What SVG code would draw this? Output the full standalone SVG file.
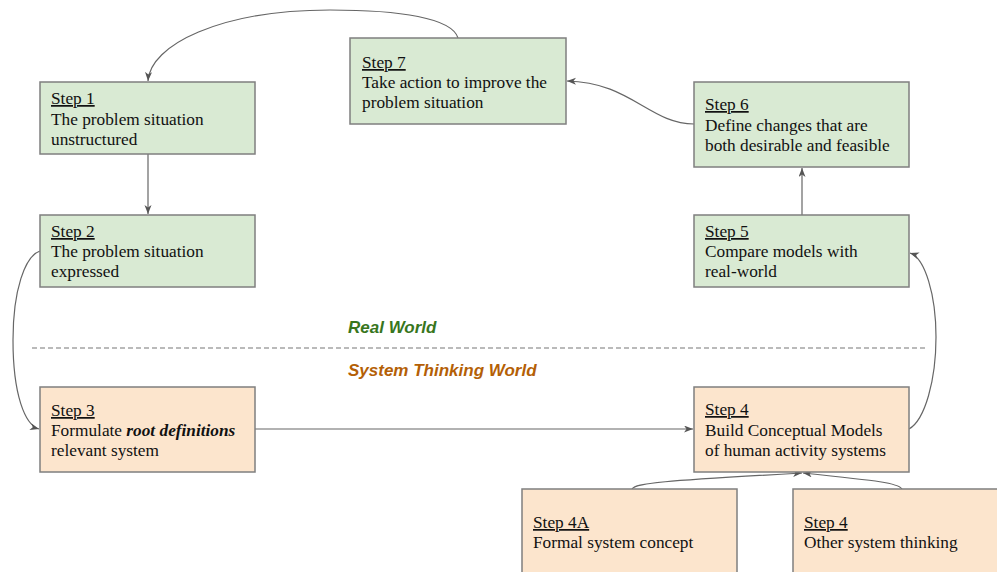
<svg xmlns="http://www.w3.org/2000/svg" width="997" height="572" viewBox="0 0 997 572">
<defs>
<style>
.g{fill:#d9ead3;stroke:#7f7f7f;stroke-width:1.5}
.o{fill:#fce5cd;stroke:#7f7f7f;stroke-width:1.5}
.t{font-family:"Liberation Serif","Times New Roman",serif;font-size:17.3px;fill:#111}
.u{text-decoration:underline}
.c{fill:none;stroke:#666;stroke-width:1.2}
.lbl{font-family:"Liberation Sans",Arial,sans-serif;font-size:17px;font-weight:bold;font-style:italic}
</style>
<marker id="ah" markerUnits="userSpaceOnUse" markerWidth="10" markerHeight="8" refX="9" refY="3.5" orient="auto">
<path d="M0,0 L9,3.5 L0,7 L2.5,3.5 z" fill="#555"/>
</marker>
</defs>
<rect width="997" height="572" fill="#fff"/>

<g id="connectors">
<path class="c" d="M458,38 C452,18 400,10 330,10 C220,10 150,45 148,81" marker-end="url(#ah)"/>
<path class="c" d="M148,154 L148,214" marker-end="url(#ah)"/>
<path class="c" d="M40,251 C25,256 13,290 13,340 C13,395 25,425 39,429" marker-end="url(#ah)"/>
<path class="c" d="M255,429 L693,429" marker-end="url(#ah)"/>
<path class="c" d="M909,429 C925,420 936,380 936,337 C936,295 925,258 910,253" marker-end="url(#ah)"/>
<path class="c" d="M802,215 L802,168" marker-end="url(#ah)"/>
<path class="c" d="M694,124 C650,124 630,82 567,81" marker-end="url(#ah)"/>
<path class="c" d="M632,489 C636,483 660,481 802,473" marker-end="url(#ah)"/>
<path class="c" d="M902,489 C898,483 880,481 803,473" marker-end="url(#ah)"/>
</g>

<g id="divider">
<line x1="32" y1="348" x2="926" y2="348" stroke="#777" stroke-width="1.2" stroke-dasharray="5,3"/>
<text class="lbl" x="348" y="333" fill="#38761d">Real World</text>
<text class="lbl" x="348" y="376" fill="#b45f06">System Thinking World</text>
</g>

<g id="step1">
<rect class="g" x="40" y="82" width="215" height="72"/>
<text class="t" x="51" y="104"><tspan class="u">Step 1</tspan><tspan x="51" y="125">The problem situation</tspan><tspan x="51" y="145">unstructured</tspan></text>
</g>

<g id="step2">
<rect class="g" x="40" y="215" width="215" height="72"/>
<text class="t" x="51" y="237"><tspan class="u">Step 2</tspan><tspan x="51" y="257">The problem situation</tspan><tspan x="51" y="277">expressed</tspan></text>
</g>

<g id="step7">
<rect class="g" x="350" y="38" width="216" height="86"/>
<text class="t" x="362" y="68"><tspan class="u">Step 7</tspan><tspan x="362" y="88">Take action to improve the</tspan><tspan x="362" y="108">problem situation</tspan></text>
</g>

<g id="step6">
<rect class="g" x="694" y="82" width="215" height="85"/>
<text class="t" x="705" y="110"><tspan class="u">Step 6</tspan><tspan x="705" y="131">Define changes that are</tspan><tspan x="705" y="151">both desirable and feasible</tspan></text>
</g>

<g id="step5">
<rect class="g" x="694" y="215" width="215" height="72"/>
<text class="t" x="705" y="237"><tspan class="u">Step 5</tspan><tspan x="705" y="257">Compare models with</tspan><tspan x="705" y="277">real-world</tspan></text>
</g>

<g id="step3">
<rect class="o" x="40" y="387" width="215" height="85"/>
<text class="t" x="51" y="416"><tspan class="u">Step 3</tspan><tspan x="51" y="436">Formulate <tspan font-weight="bold" font-style="italic">root definitions</tspan></tspan><tspan x="51" y="456">relevant system</tspan></text>
</g>

<g id="step4">
<rect class="o" x="694" y="387" width="215" height="85"/>
<text class="t" x="705" y="415"><tspan class="u">Step 4</tspan><tspan x="705" y="436">Build Conceptual Models</tspan><tspan x="705" y="456">of human activity systems</tspan></text>
</g>

<g id="step4a">
<rect class="o" x="522" y="489" width="215" height="90"/>
<text class="t" x="533" y="528"><tspan class="u">Step 4A</tspan><tspan x="533" y="548">Formal system concept</tspan></text>
</g>

<g id="step4other">
<rect class="o" x="793" y="489" width="215" height="90"/>
<text class="t" x="804" y="528"><tspan class="u">Step 4</tspan><tspan x="804" y="548">Other system thinking</tspan></text>
</g>
</svg>
